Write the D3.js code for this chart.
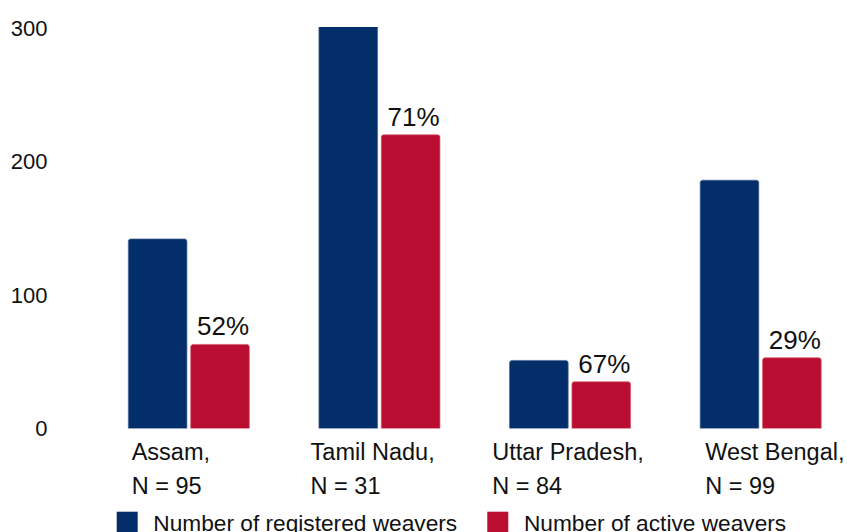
<!DOCTYPE html>
<html>
<head>
<meta charset="utf-8">
<script src="https://cdn.jsdelivr.net/npm/d3@7"></script>
<style>
  html, body { margin: 0; padding: 0; background: #fff; overflow: hidden; }
  text { font-family: "Liberation Sans", Arial, sans-serif; fill: #111; }
</style>
</head>
<body>
<div id="chart"></div>
<script>
// Chart data
const states = ["Assam", "Tamil Nadu", "Uttar Pradesh", "West Bengal"];
const sampleSizes = [95, 31, 84, 99];
const registered = [142, 310, 51, 186];
const active = [63, 220, 35, 53];
const activeShare = ["52%", "71%", "67%", "29%"];
const yTicks = [0, 100, 200, 300];
const seriesNames = ["Number of registered weavers", "Number of active weavers"];

// Dimensions
const width = 847;
const height = 532;
const colors = ["#032e69", "#b90e31"];
const strokes = ["#4d6a95", "#d45a72"];

const svg = d3.select('#chart')
    .append('svg')
    .attr('width', width)
    .attr('height', height);

// Scales
const y = d3.scaleLinear()
    .domain([0, 300])
    .range([428.5, 28]);

const x0 = d3.scaleBand()
    .domain(states)
    .range([93.5, 856])
    .paddingInner(0.365)
    .paddingOuter(0.1825);

const x1 = d3.scaleBand()
    .domain([0, 1])
    .range([0, x0.bandwidth()])
    .paddingInner(0.06);

// Build rows for the bars
const rows = states.map((s, i) => ({
    state: s,
    n: sampleSizes[i],
    values: [registered[i], active[i]],
    share: activeShare[i]
}));

// Clip so the tall bar stops at the top of the axis
svg.append('clipPath')
    .attr('id', 'plot-clip')
    .append('rect')
    .attr('x', 0)
    .attr('y', y(300) - 1)
    .attr('width', width)
    .attr('height', y(0) - y(300) + 1);

// Y axis labels (no line, no ticks)
svg.append('g')
    .selectAll('text')
    .data(yTicks)
    .join('text')
    .attr('x', 47.5)
    .attr('y', d => y(d))
    .attr('dy', '0.36em')
    .attr('text-anchor', 'end')
    .attr('font-size', 22)
    .text(d => d);

// Bar with rounded top corners
function barPath(bx, by, bw, bh, r) {
    r = Math.min(r, bh);
    return `M${bx},${by + bh}V${by + r}Q${bx},${by} ${bx + r},${by}` +
        `H${bx + bw - r}Q${bx + bw},${by} ${bx + bw},${by + r}V${by + bh}Z`;
}

const groups = svg.append('g')
    .attr('clip-path', 'url(#plot-clip)')
    .selectAll('g')
    .data(rows)
    .join('g')
    .attr('transform', d => `translate(${x0(d.state)},0)`);

groups.selectAll('path')
    .data(d => d.values.map((v, k) => ({ v, k })))
    .join('path')
    .attr('d', d => barPath(x1(d.k), y(d.v), x1.bandwidth(), y(0) - y(d.v), 2.5))
    .attr('fill', d => colors[d.k])
    .attr('stroke', d => strokes[d.k])
    .attr('stroke-width', 0.7);

// Percent labels above the active bars
svg.append('g')
    .selectAll('text')
    .data(rows)
    .join('text')
    .attr('x', d => x0(d.state) + x1(1) + x1.bandwidth() / 2 + 3)
    .attr('y', d => y(d.values[1]) - 9)
    .attr('text-anchor', 'middle')
    .attr('font-size', 26)
    .text(d => d.share);

// Category labels, two lines each (small hand-tuned shifts as in the original)
const labelDx = [3.4, -8.3, -17.3, 5];
const cat = svg.append('g')
    .selectAll('text')
    .data(rows)
    .join('text')
    .attr('font-size', 23.5)
    .attr('x', (d, i) => x0(d.state) + labelDx[i]);

cat.append('tspan')
    .attr('x', (d, i) => x0(d.state) + labelDx[i])
    .attr('y', 459.5)
    .text(d => d.state + ',');

cat.append('tspan')
    .attr('x', (d, i) => x0(d.state) + labelDx[i])
    .attr('y', 494)
    .text(d => 'N = ' + d.n);

// Legend
const legendX = [116.7, 487.3];
const legend = svg.append('g')
    .selectAll('g')
    .data(seriesNames)
    .join('g')
    .attr('transform', (d, i) => `translate(${legendX[i]},511.7)`);

legend.append('rect')
    .attr('width', 21)
    .attr('height', 21)
    .attr('fill', (d, i) => colors[i]);

legend.append('text')
    .attr('x', 36.6)
    .attr('y', 19.5)
    .attr('font-size', 22.7)
    .text(d => d);
</script>
</body>
</html>
